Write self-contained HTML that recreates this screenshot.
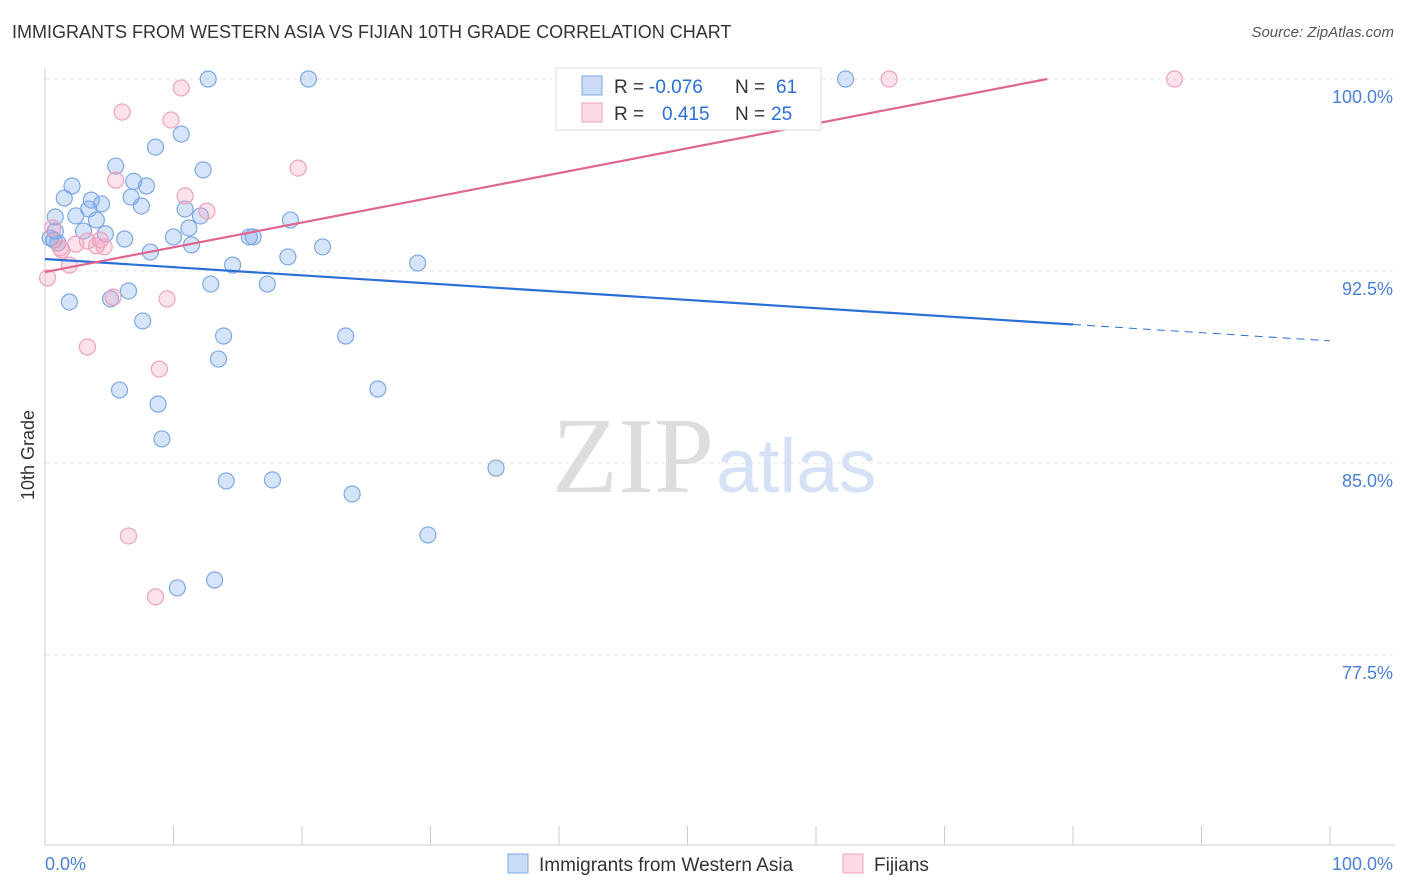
<!DOCTYPE html>
<html><head><meta charset="utf-8"><style>
body{margin:0;background:#fff;font-family:"Liberation Sans",sans-serif;}
#wrap{position:relative;width:1406px;height:892px;overflow:hidden}
.t{position:absolute;white-space:nowrap}
</style></head><body><div id="wrap">
<div class="t" style="left:12px;top:22px;font-size:18px;color:#333">IMMIGRANTS FROM WESTERN ASIA VS FIJIAN 10TH GRADE CORRELATION CHART</div>
<div class="t" style="right:12px;top:24px;font-size:15px;color:#555;font-style:italic">Source: ZipAtlas.com</div>
<svg id="svg" width="1406" height="892" style="position:absolute;left:0;top:0"></svg>
</div>
<script>
const yTicks=[100,92.5,85,77.5];
const yTickLabels=["100.0%","92.5%","85.0%","77.5%"];
const blueX=[12.7,20.5,62.3,10.6,8.6,5.5,12.3,2.1,6.9,7.9,1.5,3.6,6.7,4.4,7.5,10.9,2.4,0.8,4.0,12.1,19.1,3.0,0.8,11.2,4.7,10.0,15.9,16.2,0.7,0.4,1.0,6.2,11.4,21.6,8.2,18.9,14.6,29.0,12.9,17.3,6.5,1.9,5.1,7.6,13.9,23.4,13.5,5.8,25.9,8.8,9.1,35.1,14.1,17.7,23.9,29.8,13.2,10.3,3.4];
const blueY=[100,100,100,97.85,97.34,96.6,96.45,95.82,96.0,95.82,95.35,95.27,95.39,95.12,95.04,94.92,94.65,94.61,94.49,94.65,94.49,94.06,94.06,94.18,93.95,93.83,93.83,93.83,93.71,93.79,93.59,93.75,93.52,93.44,93.24,93.05,92.73,92.81,91.99,91.99,91.72,91.29,91.41,90.55,89.96,89.96,89.06,87.85,87.89,87.30,85.94,84.80,84.30,84.34,83.79,82.19,80.43,80.12,94.92];
const pinkX=[65.7,87.9,10.6,6.0,9.8,19.7,5.5,10.9,12.6,0.6,1.2,2.4,3.3,4.0,4.6,4.3,1.9,0.2,5.3,9.5,3.3,8.9,6.5,8.6,1.3];
const pinkY=[100,100,99.65,98.71,98.40,96.52,96.05,95.43,94.84,94.18,93.40,93.55,93.67,93.48,93.44,93.71,92.73,92.23,91.48,91.41,89.53,88.67,82.15,79.77,93.32];
const blueTrend=[92.97,89.77];
const pinkTrend=[92.46,100];
const X=v=>45+v*12.85, Y=v=>79+(100-v)*25.6;
const svg=document.getElementById('svg');const NS='http://www.w3.org/2000/svg';
function el(t,a,name){const e=document.createElementNS(NS,t);for(const k in a)e.setAttribute(k,a[k]);


svg.appendChild(e);return e;}
yTicks.forEach((v,i)=>{el('line',{x1:45,x2:1395,y1:Y(v),y2:Y(v),stroke:'#e4e4e4','stroke-dasharray':'4,4'},'gridline');
const t=el('text',{x:1393,y:Y(v)+24,'text-anchor':'end','font-size':18,fill:'#4a7fd6','font-family':'Liberation Sans'},'y-tick-label');t.textContent=yTickLabels[i];});
el('line',{x1:45,x2:45,y1:68,y2:845,stroke:'#ccc'},'y-axis');
el('line',{x1:45,x2:1395,y1:845,y2:845,stroke:'#ccc'},'x-axis');
for(let i=1;i<=10;i++)el('line',{x1:45+i*128.5,x2:45+i*128.5,y1:826,y2:845,stroke:'#ccc'},'x-tick');
let t=el('text',{x:45,y:870,'font-size':18,fill:'#4a7fd6','font-family':'Liberation Sans'},'x-min-label');t.textContent='0.0%';
t=el('text',{x:1393,y:870,'text-anchor':'end','font-size':18,fill:'#4a7fd6','font-family':'Liberation Sans'},'x-max-label');t.textContent='100.0%';
t=el('text',{x:34,y:455,'font-size':18,fill:'#333','text-anchor':'middle',transform:'rotate(-90 34 455)','font-family':'Liberation Sans'},'y-axis-title');t.textContent='10th Grade';
t=el('text',{x:714,y:492,'font-size':108,fill:'#ddd','text-anchor':'end','font-family':'Liberation Serif'},'watermark-zip');t.textContent='ZIP';
t=el('text',{x:716,y:492,'font-size':76,fill:'#d5e2f5','font-family':'Liberation Sans'},'watermark-atlas');t.textContent='atlas';
blueX.forEach((x,i)=>el('circle',{cx:X(x),cy:Y(blueY[i]),r:8,fill:'rgba(120,165,235,0.3)',stroke:'#7ea8e4','stroke-width':1.2},'blue-point'));
pinkX.forEach((x,i)=>el('circle',{cx:X(x),cy:Y(pinkY[i]),r:8,fill:'rgba(245,160,190,0.3)',stroke:'#eda3bc','stroke-width':1.2},'pink-point'));
const bAt=x=>blueTrend[0]+(blueTrend[1]-blueTrend[0])*x/100;
el('line',{x1:X(0),y1:Y(bAt(0)),x2:X(80),y2:Y(bAt(80)),stroke:'#2a6fd6','stroke-width':2.2},'blue-trendline');
el('line',{x1:X(80),y1:Y(bAt(80)),x2:X(100),y2:Y(bAt(100)),stroke:'#2a6fd6','stroke-width':1,'stroke-dasharray':'8,6'},'blue-trendline-extension');
el('line',{x1:X(0),y1:Y(pinkTrend[0]),x2:X(78),y2:Y(pinkTrend[1]),stroke:'#e0668f','stroke-width':2.2},'pink-trendline');
el('rect',{x:556,y:68,width:265,height:62,fill:'#fff',stroke:'#ddd'},'legend-box');
el('rect',{x:582,y:76,width:20,height:19,fill:'rgba(120,165,235,0.4)',stroke:'#7ea8e4'},'legend-blue-swatch');
el('rect',{x:582,y:103,width:20,height:19,fill:'rgba(245,160,190,0.4)',stroke:'#eda3bc'},'legend-pink-swatch');
[['R =',614,93,'#333'],['-0.076',649,93,'#2a6fd6'],['N =',735,93,'#333'],['61',776,93,'#2a6fd6'],
['R =',614,120,'#333'],['0.415',662,120,'#2a6fd6'],['N =',735,120,'#333'],['25',771,120,'#2a6fd6']].forEach(a=>{
const e=el('text',{x:a[1],y:a[2],'font-size':19,fill:a[3],'font-family':'Liberation Sans'},'legend-stat');e.textContent=a[0];});
el('rect',{x:508,y:854,width:20,height:19,fill:'rgba(120,165,235,0.4)',stroke:'#7ea8e4'},'bottom-legend-blue-swatch');
t=el('text',{x:539,y:871,'font-size':19,fill:'#333','font-family':'Liberation Sans'},'bottom-legend-blue-label');t.textContent='Immigrants from Western Asia';
el('rect',{x:843,y:854,width:20,height:19,fill:'rgba(245,160,190,0.4)',stroke:'#eda3bc'},'bottom-legend-pink-swatch');
t=el('text',{x:874,y:871,'font-size':19,fill:'#333','font-family':'Liberation Sans'},'bottom-legend-pink-label');t.textContent='Fijians';
</script></body></html>
